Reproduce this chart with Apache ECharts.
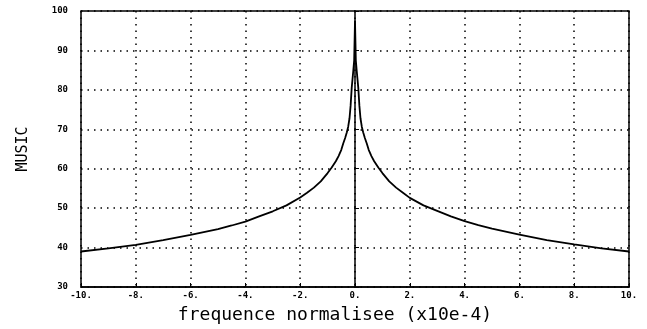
<!DOCTYPE html>
<html>
<head>
<meta charset="utf-8">
<script src="https://cdn.jsdelivr.net/npm/echarts@6/dist/echarts.min.js"></script>
<style>
  html, body { margin: 0; padding: 0; background: #fff; }
  #main { width: 647px; height: 329px; }
</style>
</head>
<body>
<div id="main"></div>
<script>
// frequence normalisee (x10e-4)
var freq = [-10, -9, -8, -7, -6, -5, -4.5, -4, -3.5, -3, -2.5, -2, -1.75, -1.5, -1.25, -1, -0.85, -0.7, -0.6, -0.5, -0.43, -0.36, -0.3, -0.25, -0.2, -0.16, -0.12, -0.06, -0.03, 0,
  0.03, 0.06, 0.12, 0.16, 0.2, 0.25, 0.3, 0.36, 0.43, 0.5, 0.6, 0.7, 0.85, 1, 1.25, 1.5, 1.75, 2, 2.5, 3, 3.5, 4, 4.5, 5, 6, 7, 8, 9, 10];
// pseudo-spectre MUSIC
var music = [39.0, 39.8, 40.7, 41.9, 43.2, 44.7, 45.6, 46.6, 47.9, 49.2, 50.7, 52.7, 53.9, 55.2, 56.8, 58.9, 60.3, 61.9, 63.2, 64.8, 66.4, 67.8, 69.2, 70.6, 72.8, 76.0, 80.5, 85.0, 87.5, 97.5,
  87.5, 85.0, 80.5, 76.0, 72.8, 70.6, 69.2, 67.8, 66.4, 64.8, 63.2, 61.9, 60.3, 58.9, 56.8, 55.2, 53.9, 52.6, 50.7, 49.3, 47.9, 46.7, 45.7, 44.8, 43.3, 41.9, 40.8, 39.8, 39.0];

var xTicks = [-10, 10, 2];
var yTicks = [30, 100, 10];

var points = [];
for (var i = 0; i < freq.length; i++) {
  points.push([freq[i], music[i]]);
}

var chart = echarts.init(document.getElementById('main'), null, { renderer: 'canvas' });

var gridLine = {
  show: true,
  lineStyle: { color: '#000', width: 1.5, type: [1.5, 5] }
};

var option = {
  backgroundColor: '#fff',
  animation: false,
  grid: {
    left: 81, right: 18, top: 11, bottom: 38,
    show: true, borderColor: '#000', borderWidth: 1.5
  },
  xAxis: {
    type: 'value',
    min: xTicks[0], max: xTicks[1], interval: xTicks[2],
    name: 'frequence normalisee (x10e-4)',
    nameLocation: 'middle',
    nameGap: 19,
    nameTextStyle: {
      fontFamily: 'DejaVu Sans Mono', fontSize: 18, color: '#000',
      padding: [0, 40, 0, 0]
    },
    axisLine: { show: true, lineStyle: { color: '#000', width: 1.5 } },
    axisTick: { show: true, inside: true, length: 4, lineStyle: { color: '#000' } },
    axisLabel: {
      margin: 4, fontSize: 9, fontWeight: 'bold', color: '#000',
      fontFamily: 'DejaVu Sans Mono',
      formatter: function (v) { return v + '.'; }
    },
    splitLine: gridLine
  },
  yAxis: {
    type: 'value',
    min: yTicks[0], max: yTicks[1], interval: yTicks[2],
    name: 'MUSIC',
    nameLocation: 'middle',
    nameGap: 50,
    nameTextStyle: { fontFamily: 'DejaVu Sans Mono', fontSize: 15, color: '#000' },
    axisLine: { show: true, lineStyle: { color: '#000', width: 1.5 } },
    axisTick: { show: true, inside: true, length: 4, lineStyle: { color: '#000' } },
    axisLabel: {
      margin: 13, fontSize: 9, fontWeight: 'bold', color: '#000',
      fontFamily: 'DejaVu Sans Mono'
    },
    splitLine: gridLine
  },
  series: [{
    type: 'line',
    data: points,
    showSymbol: false,
    lineStyle: { color: '#000', width: 1.8 }
  }]
};

chart.setOption(option);
</script>
</body>
</html>
